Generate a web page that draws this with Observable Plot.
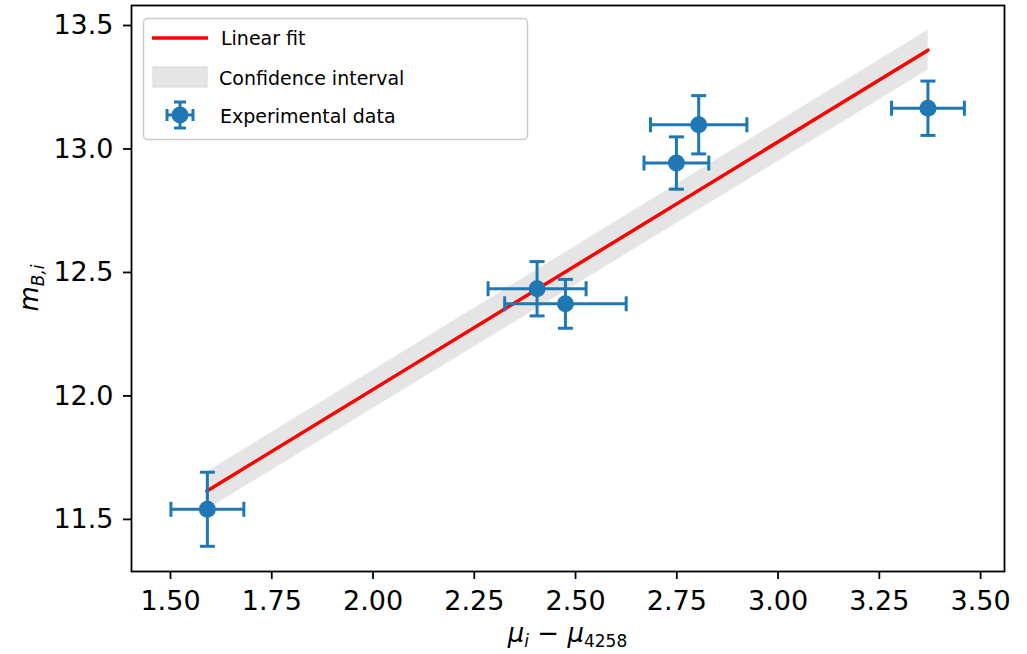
<!DOCTYPE html>
<html>
<head>
<meta charset="utf-8">
<script src="https://cdn.jsdelivr.net/npm/d3@7"></script>
<script src="https://cdn.jsdelivr.net/npm/@observablehq/plot@0.6"></script>
<style>
  html, body { margin: 0; padding: 0; background: white; }
  #chart { position: relative; width: 1027px; height: 654px; }
</style>
</head>
<body>
<div id="chart"></div>
<script>
// ---- data ----
const xVals = [1.591, 2.405, 2.475, 2.749, 2.804, 3.370];
const yVals = [11.541, 12.434, 12.373, 12.943, 13.098, 13.165];
const xErr  = [0.090, 0.121, 0.150, 0.080, 0.119, 0.090];
const yErr  = [0.150, 0.110, 0.099, 0.106, 0.118, 0.110];

const fitX    = [1.59, 3.37];
const fitY    = [11.615, 13.40];
const ciLower = [11.54, 13.32];
const ciUpper = [11.69, 13.48];

const xTicks = [1.50, 1.75, 2.00, 2.25, 2.50, 2.75, 3.00, 3.25, 3.50];
const yTicks = [11.5, 12.0, 12.5, 13.0, 13.5];

const legendLabels = ["Linear fit", "Confidence interval", "Experimental data"];

// ---- tables ----
const points = xVals.map((x, i) => ({x, y: yVals[i], xe: xErr[i], ye: yErr[i]}));
const fit = fitX.map((x, i) => ({x, y: fitY[i], lo: ciLower[i], hi: ciUpper[i]}));

const blue = "#1f77b4";
const hCap = {draw(ctx, size) { const r = Math.sqrt(size / Math.PI); ctx.moveTo(-r, 0); ctx.lineTo(r, 0); }};
const vCap = {draw(ctx, size) { const r = Math.sqrt(size / Math.PI); ctx.moveTo(0, -r); ctx.lineTo(0, r); }};

const W = 1027, H = 654;
const mL = 131, mR = 23, mT = 5, mB = 83;

const plot = Plot.plot({
  width: W,
  height: H,
  marginLeft: mL,
  marginRight: mR,
  marginTop: mT,
  marginBottom: mB,
  style: {fontFamily: "DejaVu Sans", fontSize: "27px", background: "white", color: "black"},
  x: {domain: [1.4037, 3.559], label: null},
  y: {domain: [11.289, 13.581], label: null},
  marks: [
    Plot.areaY(fit, {x: "x", y1: "lo", y2: "hi", fill: "#e5e5e5", stroke: "#ececec", strokeWidth: 1}),
    Plot.line(fit, {x: "x", y: "y", stroke: "#ff0000", strokeWidth: 3.5}),
    // error bars
    Plot.link(points, {x1: d => d.x - d.xe, x2: d => d.x + d.xe, y1: "y", y2: "y", stroke: blue, strokeWidth: 3}),
    Plot.link(points, {x1: "x", x2: "x", y1: d => d.y - d.ye, y2: d => d.y + d.ye, stroke: blue, strokeWidth: 3}),
    Plot.dot(points, {x: d => d.x - d.xe, y: "y", symbol: vCap, r: 7.5, stroke: blue, strokeWidth: 3, fill: "none"}),
    Plot.dot(points, {x: d => d.x + d.xe, y: "y", symbol: vCap, r: 7.5, stroke: blue, strokeWidth: 3, fill: "none"}),
    Plot.dot(points, {x: "x", y: d => d.y - d.ye, symbol: hCap, r: 7.5, stroke: blue, strokeWidth: 3, fill: "none"}),
    Plot.dot(points, {x: "x", y: d => d.y + d.ye, symbol: hCap, r: 7.5, stroke: blue, strokeWidth: 3, fill: "none"}),
    Plot.dot(points, {x: "x", y: "y", r: 8.5, fill: blue, stroke: "none"}),
    Plot.axisX({ticks: xTicks, tickFormat: d3.format(".2f"), tickSize: 8, tickPadding: 11, strokeWidth: 1.8, fontSize: 27, label: null}),
    Plot.axisY({ticks: yTicks, tickFormat: d3.format(".1f"), tickSize: 8, tickPadding: 10, strokeWidth: 1.8, fontSize: 27, label: null}),
    Plot.frame({stroke: "black", strokeWidth: 1.8})
  ]
});

document.getElementById("chart").appendChild(plot);

// ---- axis labels with math-style subscripts ----
const svg = d3.select(plot);

const xl = svg.append("text")
  .attr("x", mL + (W - mL - mR) / 2)
  .attr("y", 642)
  .attr("text-anchor", "middle")
  .style("font-family", "DejaVu Sans")
  .style("font-size", "26px")
  .attr("fill", "black");
xl.append("tspan").style("font-style", "italic").text("μ");
xl.append("tspan").style("font-style", "italic").style("font-size", "17px").attr("dy", 5).text("i");
xl.append("tspan").attr("dy", -5).text(" − ");
xl.append("tspan").style("font-style", "italic").text("μ");
xl.append("tspan").style("font-size", "17px").attr("dy", 5).text("4258");

const yl = svg.append("text")
  .attr("transform", `translate(38, ${mT + (H - mT - mB) / 2}) rotate(-90)`)
  .attr("text-anchor", "middle")
  .style("font-family", "DejaVu Sans")
  .style("font-size", "26px")
  .attr("fill", "black");
yl.append("tspan").style("font-style", "italic").text("m");
yl.append("tspan").style("font-style", "italic").style("font-size", "17px").attr("dy", 6).text("B,i");

// ---- legend ----
const lg = svg.append("g").style("font-family", "DejaVu Sans").style("font-size", "19px")
  .attr("text-anchor", "start");
lg.append("rect").attr("x", 143.5).attr("y", 18.5).attr("width", 384).attr("height", 121)
  .attr("rx", 4).attr("fill", "white").attr("fill-opacity", 0.8)
  .attr("stroke", "#cccccc").attr("stroke-width", 1.5);
lg.append("line").attr("x1", 152).attr("x2", 208).attr("y1", 38).attr("y2", 38)
  .attr("stroke", "#ff0000").attr("stroke-width", 3.5);
lg.append("text").attr("x", 221).attr("y", 45).attr("text-anchor", "start").text(legendLabels[0]);
lg.append("rect").attr("x", 153).attr("y", 67).attr("width", 54).attr("height", 20)
  .attr("fill", "#e5e5e5").attr("stroke", "#dcdcdc").attr("stroke-width", 1.2);
lg.append("text").attr("x", 219).attr("y", 85).attr("text-anchor", "start").text(legendLabels[1]);
const mk = lg.append("g").attr("transform", "translate(180,115)")
  .attr("stroke", blue).attr("stroke-width", 3).attr("fill", "none");
mk.append("line").attr("x1", -13).attr("x2", 13).attr("y1", 0).attr("y2", 0);
mk.append("line").attr("x1", 0).attr("x2", 0).attr("y1", -13).attr("y2", 13);
mk.append("line").attr("x1", -13).attr("x2", -13).attr("y1", -6).attr("y2", 6);
mk.append("line").attr("x1", 13).attr("x2", 13).attr("y1", -6).attr("y2", 6);
mk.append("line").attr("x1", -6).attr("x2", 6).attr("y1", -13).attr("y2", -13);
mk.append("line").attr("x1", -6).attr("x2", 6).attr("y1", 13).attr("y2", 13);
mk.append("circle").attr("r", 8.5).attr("fill", blue).attr("stroke", "none");
lg.append("text").attr("x", 220).attr("y", 123).attr("text-anchor", "start").text(legendLabels[2]);
</script>
</body>
</html>
